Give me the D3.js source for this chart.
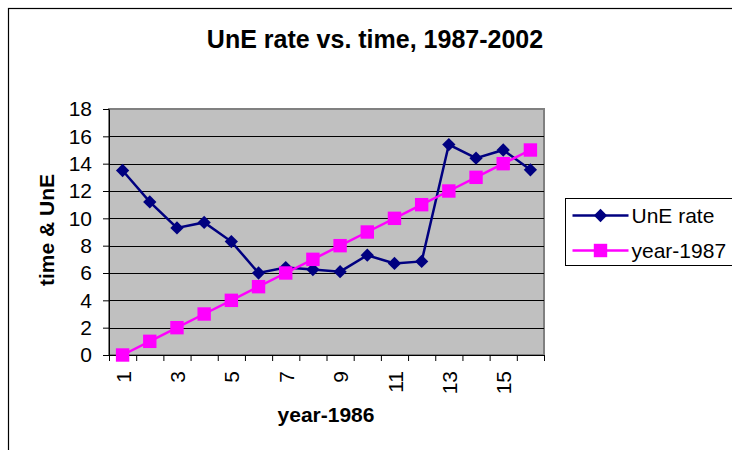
<!DOCTYPE html>
<html>
<head>
<meta charset="utf-8">
<script src="https://cdn.jsdelivr.net/npm/d3@7"></script>
<style>
  body { margin: 0; background: #fff; }
  text { font-family: "Liberation Sans", Arial, sans-serif; fill: #000; }
</style>
</head>
<body>
<div id="chart"></div>
<script>
// data
var years = d3.range(1, 17);            // year-1986
var uneRate = [13.5, 11.2, 9.3, 9.7, 8.3, 6.0, 6.4, 6.25, 6.1, 7.3, 6.7, 6.85, 15.4, 14.4, 15.0, 13.55];
var yearMinus1987 = [0, 1, 2, 3, 4, 5, 6, 7, 8, 9, 10, 11, 12, 13, 14, 15];
var yTicks = [0, 2, 4, 6, 8, 10, 12, 14, 16, 18];
var xLabelTicks = [1, 3, 5, 7, 9, 11, 13, 15];
var seriesNames = ["UnE rate", "year-1987"];

var svgWidth = 732, svgHeight = 450;
var margin = { top: 109, left: 109, right: 188, bottom: 95 };
var width = svgWidth - margin.left - margin.right;    // 435
var height = svgHeight - margin.top - margin.bottom;  // 246

var svg = d3.select("#chart").append("svg")
  .attr("width", svgWidth)
  .attr("height", svgHeight);

// outer chart border (runs off the right and bottom)
svg.append("rect")
  .attr("x", 8.5).attr("y", 8.5)
  .attr("width", 800).attr("height", 500)
  .attr("fill", "none")
  .attr("stroke", "#000")
  .attr("stroke-width", 1.2);

// title
svg.append("text")
  .attr("x", 375)
  .attr("y", 48)
  .attr("text-anchor", "middle")
  .attr("font-size", "25px")
  .attr("font-weight", "bold")
  .text("UnE rate vs. time, 1987-2002");

var chartGroup = svg.append("g")
  .attr("transform", `translate(${margin.left}, ${margin.top})`);

// scales
var xScale = d3.scaleLinear().domain([0.5, 16.5]).range([0, width]);
var yScale = d3.scaleLinear().domain([0, 18]).range([height, 0]);

// plot area
chartGroup.append("rect")
  .attr("width", width)
  .attr("height", height)
  .attr("fill", "#C0C0C0")
  .attr("stroke", "#808080")
  .attr("stroke-width", 2);

// gridlines
chartGroup.append("g")
  .selectAll("line")
  .data(yTicks.filter(d => d > 0 && d < 18))
  .enter()
  .append("line")
  .attr("x1", 0).attr("x2", width)
  .attr("y1", d => Math.round(yScale(d)) + 0.5)
  .attr("y2", d => Math.round(yScale(d)) + 0.5)
  .attr("stroke", "#000")
  .attr("stroke-width", 1);

// y axis
var leftAxis = d3.axisLeft(yScale)
  .tickValues(yTicks)
  .tickSize(6)
  .tickSizeOuter(0)
  .tickPadding(11);
var yAxis = chartGroup.append("g").call(leftAxis);
yAxis.selectAll("text").attr("font-size", "21px").attr("font-family", "Liberation Sans, Arial, sans-serif").attr("fill", "#000");
yAxis.selectAll("line, path").attr("stroke", "#000");

// x axis: ticks between categories, labels on odd years
var bottomAxis = d3.axisBottom(xScale)
  .tickValues(d3.range(0.5, 17, 1))
  .tickSize(6)
  .tickSizeOuter(0)
  .tickFormat("");
var xAxis = chartGroup.append("g")
  .attr("transform", `translate(0, ${height})`)
  .call(bottomAxis);
xAxis.selectAll("line, path").attr("stroke", "#000");

var labelAxis = d3.axisBottom(xScale)
  .tickValues(xLabelTicks)
  .tickSize(0)
  .tickFormat(d3.format("d"));
var xLabels = chartGroup.append("g")
  .attr("transform", `translate(0, ${height})`)
  .call(labelAxis);
xLabels.select(".domain").remove();
xLabels.selectAll("text")
  .attr("font-size", "21px")
  .attr("font-family", "Liberation Sans, Arial, sans-serif")
  .attr("fill", "#000")
  .attr("x", -16)
  .attr("y", 0)
  .attr("dy", "0.36em")
  .attr("transform", "rotate(-90)")
  .style("text-anchor", "end");

// axis titles
svg.append("text")
  .attr("x", 326)
  .attr("y", 422)
  .attr("text-anchor", "middle")
  .attr("font-size", "21px")
  .attr("font-weight", "bold")
  .text("year-1986");

svg.append("text")
  .attr("transform", "translate(54, 230) rotate(-90)")
  .attr("text-anchor", "middle")
  .attr("font-size", "21px")
  .attr("font-weight", "bold")
  .text("time & UnE");

// series
var lineGen = d3.line()
  .x((d, i) => xScale(years[i]))
  .y(d => yScale(d));

var diamond = d3.symbol().type(d3.symbolSquare).size(88);
var square = d3.symbol().type(d3.symbolSquare).size(180);

chartGroup.append("path")
  .datum(uneRate)
  .attr("d", lineGen)
  .attr("fill", "none")
  .attr("stroke", "#000080")
  .attr("stroke-width", 2.5);

chartGroup.selectAll(".une")
  .data(uneRate)
  .enter()
  .append("path")
  .attr("class", "une")
  .attr("d", diamond)
  .attr("transform", (d, i) => `translate(${xScale(years[i])}, ${yScale(d)}) rotate(45)`)
  .attr("fill", "#000080");

chartGroup.append("path")
  .datum(yearMinus1987)
  .attr("d", lineGen)
  .attr("fill", "none")
  .attr("stroke", "#FF00FF")
  .attr("stroke-width", 2.5);

chartGroup.selectAll(".yr")
  .data(yearMinus1987)
  .enter()
  .append("path")
  .attr("class", "yr")
  .attr("d", square)
  .attr("transform", (d, i) => `translate(${xScale(years[i])}, ${yScale(d)})`)
  .attr("fill", "#FF00FF");

// legend
var legend = svg.append("g").attr("transform", "translate(565.5, 198.5)");
legend.append("rect")
  .attr("width", 200)
  .attr("height", 67)
  .attr("fill", "#fff")
  .attr("stroke", "#000")
  .attr("stroke-width", 1);

var legendColors = ["#000080", "#FF00FF"];
var legendMarks = [diamond, square];
var legendRows = legend.selectAll(".row")
  .data(seriesNames)
  .enter()
  .append("g")
  .attr("class", "row")
  .attr("transform", (d, i) => `translate(0, ${i === 0 ? 17 : 52})`);

legendRows.append("line")
  .attr("x1", 7).attr("x2", 63)
  .attr("stroke", (d, i) => legendColors[i])
  .attr("stroke-width", 2.5);

legendRows.append("path")
  .attr("d", (d, i) => legendMarks[i]())
  .attr("transform", (d, i) => `translate(35, 0)${i === 0 ? " rotate(45)" : ""}`)
  .attr("fill", (d, i) => legendColors[i]);

legendRows.append("text")
  .attr("x", 66)
  .attr("dy", "0.36em")
  .attr("font-size", "21px")
  .text(d => d);
</script>
</body>
</html>
